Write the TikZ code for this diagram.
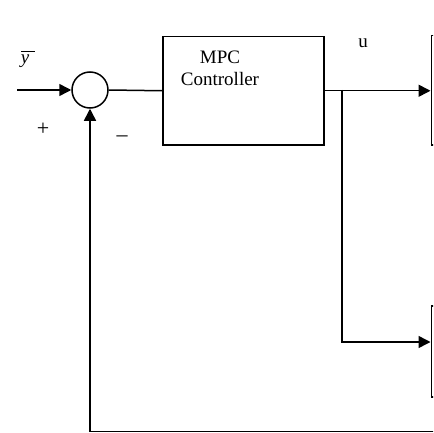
\documentclass[tikz,border=0pt]{standalone}
\usepackage{fontspec}
\setmainfont{Liberation Serif}
\usetikzlibrary{arrows.meta}
\begin{document}
\begin{tikzpicture}[x=1pt,y=-1pt,
  line width=1.5pt,
  arr/.style={-{Triangle[length=12pt,width=12pt]}},
  blk/.style={draw,rectangle,inner sep=0pt,anchor=north west},
  lbl/.style={font=\fontsize{19}{22}\selectfont,inner sep=0pt},
  sgn/.style={font=\fontsize{22}{24}\selectfont,inner sep=0pt}]
\useasboundingbox (0,0) rectangle (433,433);
\clip (0,0) rectangle (433,433);
\node[draw,circle,minimum size=36pt,inner sep=0pt] (sum) at (90,90) {};
\node[blk,minimum width=161pt,minimum height=108pt] (mpc) at (162,36) {};
\node[lbl,align=center] (mpctxt) at (220,68) {MPC\\Controller};
\node[blk,minimum width=80pt,minimum height=109pt] (plant1) at (430.5,35) {};
\node[blk,minimum width=80pt,minimum height=91pt] (plant2) at (430.5,305) {};
\node[lbl] (ybar) at (25,59) {\makebox[0pt][l]{\hspace{0.5pt}\rule[11.5pt]{14pt}{1.1pt}}\textit{y}};
\node[sgn] (plus) at (43,129) {+};
\node[sgn] (minus) at (122,139) {–};
\node[lbl] (u) at (363,43) {u};
\coordinate (in) at (17,90);
\coordinate (br) at (342,90);
\coordinate (k) at (0,342);
\coordinate (fbr) at (440,431.5);
\draw[arr] (in) -- (sum.west);
\draw (sum.east) -- (mpc.west);
\draw[arr] (mpc.east) -- (plant1.west |- mpc.east);
\draw[arr] (br) |- (plant2.west |- k);
\draw[arr] (fbr) -| (sum.south);
\end{tikzpicture}
\end{document}
